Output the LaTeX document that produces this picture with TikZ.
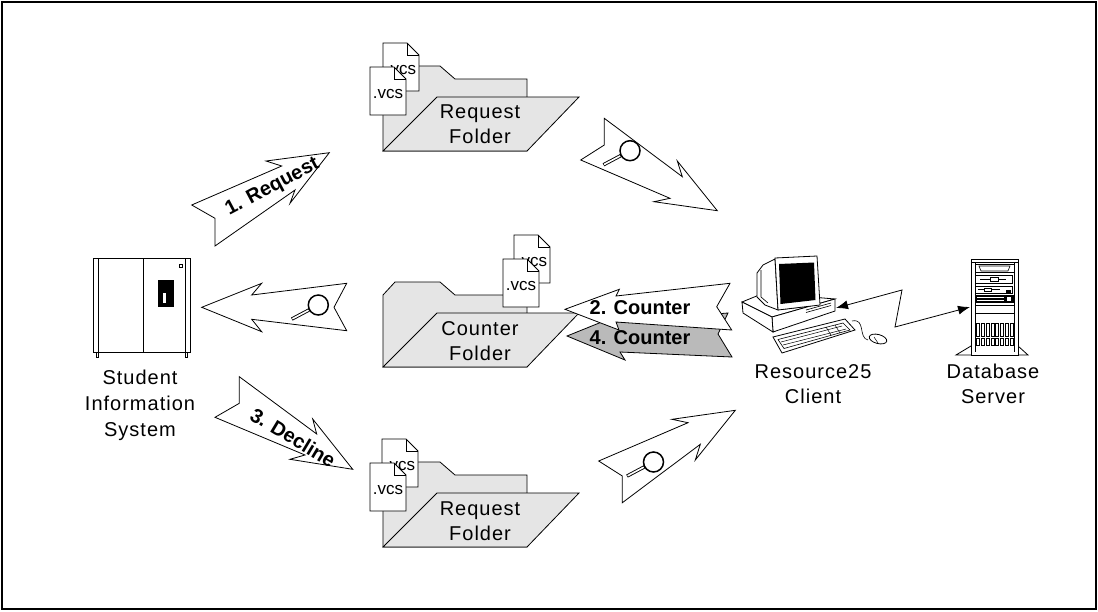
\documentclass[tikz,border=0pt]{standalone}
\usepackage{fontspec}
\setmainfont{Liberation Sans}
\newfontfamily\spacedsans[LetterSpace=5]{Liberation Sans}
\usetikzlibrary{arrows.meta}
\begin{document}
\begin{tikzpicture}[x=1pt,y=-1pt,
  outline/.style={draw=black,line width=0.8pt,line join=miter},
  bigarrow/.style={outline,fill=white},
  grayarrow/.style={outline,fill=black!27},
  foldershade/.style={outline,fill=black!10},
  doc/.style={outline,fill=white},
  label/.style={font=\spacedsans\fontsize{20}{25}\selectfont,align=center,inner sep=0pt},
  steplabel/.style={font=\fontsize{20}{24}\selectfont\bfseries,inner sep=0pt},
  doctext/.style={font=\fontsize{17}{20}\selectfont,inner sep=0pt},
  pics/folder/.style={code={
    \path[foldershade] (0,85) -- (0,13) -- (12,0) -- (57,0) -- (72,13) -- (144,13) -- (144,85) -- cycle;
    \path[foldershade] (0,85) -- (54,31) -- (196,31) -- (144,85) -- cycle;
  }},
  pics/vcsdoc/.style={code={
    \path[doc] (0,0) -- (24,0) -- (36,12) -- (36,48) -- (0,48) -- cycle;
    \draw[line width=0.8pt] (24,0) -- (24,12) -- (36,12);
    \node[doctext] at (18,27) {.vcs};
  }},
  pics/magnifier/.style={code={
    \draw[line width=3.4pt,line cap=butt] (152:10) -- (152:30);
    \draw[white,line width=1.6pt,line cap=butt] (152:11) -- (152:29.4);
    \draw[line width=1.5pt] (0,0) circle (10);
  }},
]
\useasboundingbox (0,0) rectangle (1098,611);
\draw[line width=2pt] (2,2) rectangle (1096,609);

% ---------------- folders with their .vcs files
\pic at (383,66) {folder};
\pic at (383,43) {vcsdoc};
\pic at (370,67) {vcsdoc};
\node[label] (reqtop) at (480,124) {Request\\Folder};

\pic at (383,282) {folder};
\pic at (514,235) {vcsdoc};
\pic at (503,259) {vcsdoc};
\node[label] (counter) at (480,341) {Counter\\Folder};

\pic at (383,462) {folder};
\pic at (382,439) {vcsdoc};
\pic at (370,463) {vcsdoc};
\node[label] (reqbottom) at (480,521) {Request\\Folder};

% ---------------- student information system cabinet
\path[outline,fill=white] (96,352) rectangle (98,357);
\path[outline,fill=white] (185,352) rectangle (187,357);
\path[outline,fill=white] (93,258) rectangle (190,352);
\draw[line width=0.8pt] (98,259) -- (98,352) (185,259) -- (185,352);
\draw[line width=1.6pt] (93,258.5) -- (190,258.5);
\draw[line width=0.8pt] (143,259) -- (143,352);
\fill (158,280) rectangle (174,307);
\fill[white] (163,293) rectangle (166,303);
\draw[line width=0.6pt] (179.5,264.5) rectangle (182,267);
\node[label] (sis) at (140,405) {Student\\[1pt]Information\\[1pt]System};

% ---------------- flow arrows
\path[bigarrow] (191.7,205) -- (281.7,166) -- (266,161) -- (329.3,152.7) -- (290,203.3)
  -- (295,190) -- (215,246) -- (215,218.3) -- cycle;
\node[steplabel,rotate=28] (step1) at (272.5,187.5) {1. Request};

\path[bigarrow] (215,417.3) -- (239.3,403.3) -- (239.3,376.7) -- (316.7,434) -- (312.7,419)
  -- (352.7,469.3) -- (290,459.3) -- (305,455) -- cycle;
\node[steplabel,rotate=-31] (step3) at (293,437.5) {3. Decline};

\path[bigarrow] (201.7,307.3) -- (261.7,283.3) -- (251.7,295) -- (346.7,283.3) -- (334,307.3)
  -- (346.7,330.7) -- (251.7,319.3) -- (261.7,331.7) -- cycle;
\pic at (318.3,305) {magnifier};

\path[bigarrow] (604.3,118.3) -- (604.3,145) -- (580.7,160) -- (670,198.3) -- (654,201.7)
  -- (717.3,210.7) -- (677.3,161) -- (682.3,176.7) -- cycle;
\pic at (630,150.7) {magnifier};

\path[bigarrow] (622.3,502.7) -- (622.3,476) -- (598.7,461) -- (688,422.7) -- (672,419.3)
  -- (735.3,410.3) -- (695.3,460) -- (700.3,444.3) -- cycle;
\pic at (653.5,462) {magnifier};

\path[grayarrow] (567,336) -- (619,315) -- (616,322) -- (728,313) -- (718,334) -- (732,357)
  -- (620,352) -- (625,360) -- cycle;
\node[steplabel] (step4) at (640,338) {4. Counter};

\path[bigarrow] (565,309.3) -- (619.3,289.3) -- (616,296) -- (730,283.3) -- (716.7,306.7)
  -- (731.7,330) -- (616,322) -- (619,330) -- cycle;
\node[steplabel] (step2) at (640,308) {2. Counter};

% ---------------- client workstation
\path[outline,fill=white] (742,302) -- (764,293) -- (835,299) -- (772,317) -- cycle;
\path[outline,fill=white] (772,317) -- (835,299) -- (835,311) -- (773,332) -- cycle;
\path[outline,fill=white] (742,302) -- (772,317) -- (773,332) -- (743,313) -- cycle;
\draw[line width=0.6pt] (806,310) -- (831,303) (806,312.5) -- (831,305.5);
\path[outline,fill=white] (785,309) -- (810,306) -- (812,302) -- (787,305) -- cycle;
\path[outline,fill=white] (775,259) -- (763,265) -- (757,273) -- (757,297) -- (765,305) -- (778,310) -- cycle;
\draw[line width=0.6pt] (761,270) -- (761,297) -- (768,303);
\path[outline,fill=white] (775,258) -- (817,256) -- (820,305) -- (778,310) -- cycle;
\fill (779,264) -- (814,262.5) -- (815.5,300) -- (780.5,304) -- cycle;
\path[outline,fill=white] (773,337) -- (845,319) -- (855,330) -- (782,353) -- cycle;
\draw[line width=0.6pt] (778,339.5) -- (843,323) -- (850,330) -- (784,348.5) -- cycle;
\draw[line width=0.5pt] (781,342) -- (842,326) (783,345) -- (846,329)
  (835,325) -- (840,333) (826,327) -- (831,335);
\draw[line width=0.6pt] (852,321) .. controls (866,318) and (858,338) .. (868,340);
\path[outline,fill=white,rotate around={-15:(878,339)}] (878,339) ellipse (9 and 4.5);
\draw[line width=0.5pt] (874,337) -- (878,343);
\node[label] (client) at (813,384) {Resource25\\Client};

% ---------------- database server
\path[outline,fill=white] (956,355) -- (971,346) -- (1018,346) -- (1028,355) -- cycle;
\path[outline,fill=white] (971,259) rectangle (1018,355);
\draw[line width=0.6pt] (975,262) -- (975,352) (1014,262) -- (1014,352) (971,262) -- (1018,262);
\draw[line width=0.6pt] (975,264) rectangle (1014,272);
\draw[line width=0.6pt] (979,266) -- (1010,266) -- (1008,271) -- (981,271) -- cycle;
\draw[line width=0.6pt] (975,275) rectangle (1012,283);
\draw[line width=0.6pt] (980,279) -- (1006,279);
\path[outline,line width=0.6pt,fill=white] (990,277) rectangle (998,281);
\draw[line width=0.6pt] (975,286) rectangle (1012,293);
\draw[line width=0.6pt] (978,289.5) -- (1000,289.5);
\path[outline,line width=0.6pt,fill=white] (984,288) rectangle (991,291);
\fill (1006,290) rectangle (1011,293);
\fill (975,295) rectangle (1014,303);
\draw[white,line width=0.5pt] (977,297.5) -- (1004,297.5) (977,300.5) -- (1004,300.5);
\fill[white] (1007,297) rectangle (1011,301);
\draw[line width=0.6pt] (975,305) rectangle (1014,313);
\foreach \i in {0,...,7} {
  \draw[line width=0.5pt] ({976.5+\i*4.8},323) rectangle ({979.5+\i*4.8},336);
  \draw[line width=0.5pt] ({976.5+\i*4.8},338.5) rectangle ({979.5+\i*4.8},345);
}
\node[label] (server) at (993,384) {Database\\Server};

% ---------------- network link
\coordinate (clientport) at (836,308);
\coordinate (serverport) at (970,307);
\draw[line width=0.8pt,{Latex[length=12pt,width=9pt]}-{Latex[length=12pt,width=9pt]}]
  (clientport) -- (902,290) -- (895,327) -- (serverport);
\end{tikzpicture}
\end{document}
